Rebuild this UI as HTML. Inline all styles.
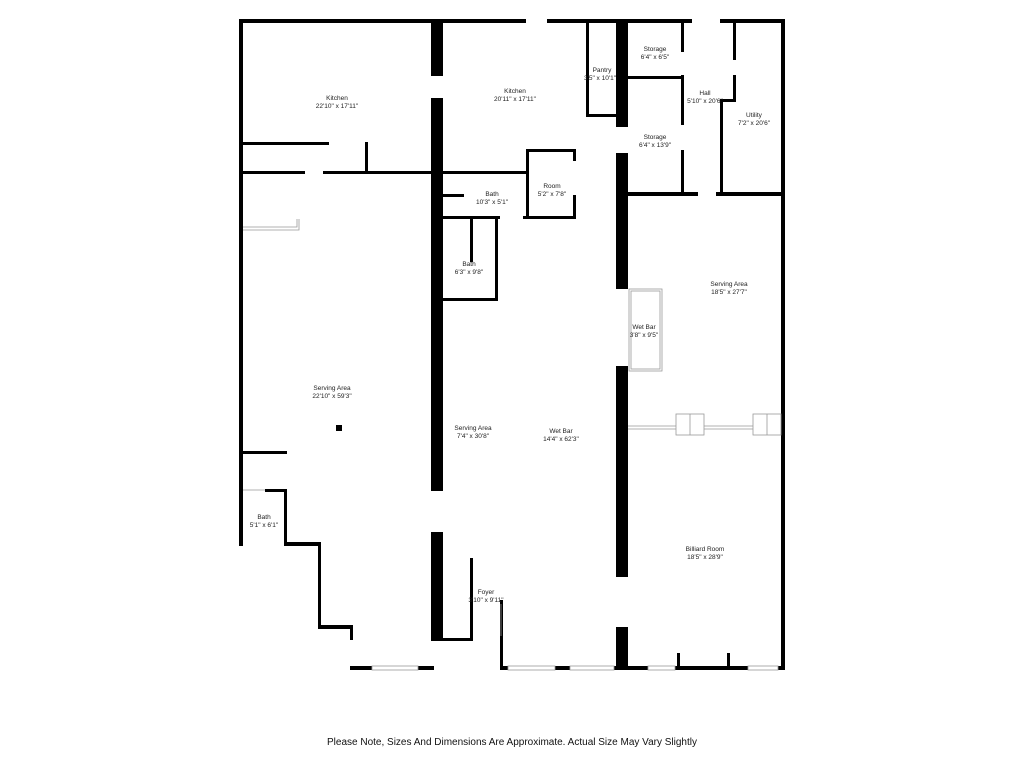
<!DOCTYPE html>
<html><head><meta charset="utf-8"><style>
body{margin:0;background:#fff;width:1024px;height:768px;overflow:hidden}
svg{display:block}
text{font-family:"Liberation Sans",sans-serif;font-size:6.5px;fill:#222;text-anchor:middle}
.n{font-size:10px;fill:#111}
</style></head><body>
<svg width="1024" height="768" viewBox="0 0 1024 768">
<g fill="#000">
<rect x="239" y="19" width="287" height="4"/>
<rect x="547" y="19" width="145" height="4"/>
<rect x="720" y="19" width="65" height="4"/>
<rect x="239" y="19" width="4" height="527"/>
<rect x="781" y="19" width="4" height="651"/>
<rect x="431" y="22" width="12" height="54"/>
<rect x="431" y="98" width="12" height="393"/>
<rect x="431" y="532" width="12" height="108"/>
<rect x="616" y="22" width="12" height="105"/>
<rect x="616" y="153" width="12" height="136"/>
<rect x="616" y="366" width="12" height="211"/>
<rect x="616" y="627" width="12" height="43"/>
<rect x="243" y="142" width="86" height="3"/>
<rect x="365" y="142" width="3" height="31"/>
<rect x="239" y="171" width="66" height="3"/>
<rect x="323" y="171" width="205" height="3"/>
<rect x="243" y="451" width="44" height="3"/>
<rect x="265" y="489" width="22" height="3"/>
<rect x="284" y="489" width="3" height="57"/>
<rect x="284" y="542" width="37" height="4"/>
<rect x="318" y="542" width="3" height="87"/>
<rect x="318" y="625" width="35" height="4"/>
<rect x="350" y="625" width="3" height="15"/>
<rect x="350" y="666" width="84" height="4"/>
<rect x="431" y="638" width="42" height="3"/>
<rect x="470" y="558" width="3" height="83"/>
<rect x="500" y="600" width="3" height="70"/>
<rect x="500" y="666" width="116" height="4"/>
<rect x="628" y="666" width="153" height="4"/>
<rect x="677" y="653" width="3" height="14"/>
<rect x="727" y="653" width="3" height="14"/>
<rect x="586" y="22" width="3" height="95"/>
<rect x="586" y="114" width="30" height="3"/>
<rect x="526" y="149" width="3" height="70"/>
<rect x="526" y="149" width="50" height="3"/>
<rect x="573" y="149" width="3" height="12"/>
<rect x="573" y="195" width="3" height="24"/>
<rect x="443" y="216" width="57" height="3"/>
<rect x="523" y="216" width="53" height="3"/>
<rect x="443" y="194" width="21" height="3"/>
<rect x="470" y="218" width="3" height="44"/>
<rect x="495" y="218" width="3" height="83"/>
<rect x="443" y="298" width="55" height="3"/>
<rect x="628" y="76" width="56" height="3"/>
<rect x="681" y="22" width="3" height="30"/>
<rect x="681" y="75" width="3" height="50"/>
<rect x="681" y="150" width="3" height="46"/>
<rect x="628" y="192" width="70" height="4"/>
<rect x="716" y="192" width="65" height="4"/>
<rect x="720" y="99" width="3" height="97"/>
<rect x="720" y="99" width="16" height="3"/>
<rect x="733" y="22" width="3" height="38"/>
<rect x="733" y="75" width="3" height="27"/>
<rect x="336" y="425" width="6" height="6"/>
</g>
<!-- windows -->
<g fill="#fff" stroke="#999" stroke-width="0.8">
<rect x="372" y="666" width="46" height="4"/>
<rect x="508" y="666" width="47" height="4"/>
<rect x="570" y="666" width="44" height="4"/>
<rect x="648" y="666" width="27" height="4"/>
<rect x="748" y="666" width="30" height="4"/>
</g>
<g fill="none" stroke="#999" stroke-width="0.8">
<rect x="629" y="289" width="33" height="82"/>
<rect x="631" y="291" width="29" height="78"/>
<line x1="628" y1="426" x2="781" y2="426"/>
<line x1="628" y1="429" x2="781" y2="429"/>
<rect x="676" y="414" width="28" height="21" fill="#fff"/>
<rect x="753" y="414" width="28" height="21" fill="#fff"/>
<line x1="690" y1="414" x2="690" y2="435"/>
<line x1="767" y1="414" x2="767" y2="435"/>
<polyline points="243,227 297,227 297,219"/>
<polyline points="243,230 299,230 299,219"/>
<line x1="501" y1="604" x2="501" y2="636"/>
<line x1="243" y1="490" x2="265" y2="490"/>
</g>
<text x="337" y="100">Kitchen</text><text x="337" y="108">22'10" x 17'11"</text>
<text x="515" y="93">Kitchen</text><text x="515" y="101">20'11" x 17'11"</text>
<text x="602" y="72">Pantry</text><text x="600" y="80">3'5" x 10'1"</text>
<text x="655" y="51">Storage</text><text x="655" y="59">6'4" x 6'5"</text>
<text x="705" y="95">Hall</text><text x="705" y="103">5'10" x 20'6"</text>
<text x="754" y="117">Utility</text><text x="754" y="125">7'2" x 20'6"</text>
<text x="655" y="139">Storage</text><text x="655" y="147">6'4" x 13'9"</text>
<text x="552" y="188">Room</text><text x="552" y="196">5'2" x 7'8"</text>
<text x="492" y="196">Bath</text><text x="492" y="204">10'3" x 5'1"</text>
<text x="469" y="266">Bath</text><text x="469" y="274">6'3" x 9'8"</text>
<text x="729" y="286">Serving Area</text><text x="729" y="294">18'5" x 27'7"</text>
<text x="644" y="329">Wet Bar</text><text x="644" y="337">3'8" x 9'5"</text>
<text x="332" y="390">Serving Area</text><text x="332" y="398">22'10" x 59'3"</text>
<text x="473" y="430">Serving Area</text><text x="473" y="438">7'4" x 30'8"</text>
<text x="561" y="433">Wet Bar</text><text x="561" y="441">14'4" x 62'3"</text>
<text x="264" y="519">Bath</text><text x="264" y="527">5'1" x 6'1"</text>
<text x="705" y="551">Billiard Room</text><text x="705" y="559">18'5" x 28'9"</text>
<text x="486" y="594">Foyer</text><text x="486" y="602">3'10" x 9'11"</text>
<text class="n" x="512" y="745">Please Note, Sizes And Dimensions Are Approximate. Actual Size May Vary Slightly</text>
</svg>
</body></html>
